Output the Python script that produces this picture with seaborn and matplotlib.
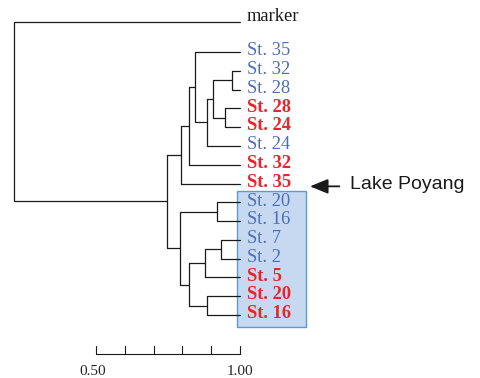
import numpy as np
import pandas as pd
import matplotlib
matplotlib.use("Agg")
import matplotlib.pyplot as plt
import seaborn as sns

# ------------------------------
#   Dendrogram data (similarity)
# ------------------------------
leaves = ["St. 35", "St. 32", "St. 28", "St. 28", "St. 24", "St. 24", "St. 32", "St. 35",
          "St. 20", "St. 16", "St. 7", "St. 2", "St. 5", "St. 20", "St. 16"]
leaf_group = ["b", "b", "b", "r", "r", "b", "r", "r",
              "b", "b", "b", "b", "r", "r", "r"]

# merges: (child a, child b, similarity); leaves are 0..14, new nodes 15, 16, ...
merges = [
    (1, 2, 0.972),    # 15
    (3, 4, 0.948),    # 16
    (15, 16, 0.906),  # 17
    (17, 5, 0.885),   # 18
    (0, 18, 0.844),   # 19
    (19, 6, 0.823),   # 20
    (20, 7, 0.795),   # 21
    (8, 9, 0.920),    # 22
    (10, 11, 0.934),  # 23
    (23, 12, 0.878),  # 24
    (13, 14, 0.885),  # 25
    (24, 25, 0.823),  # 26
    (22, 26, 0.792),  # 27
    (21, 27, 0.747),  # 28
]
root_similarity = 0.215
scale_ticks = [0.5, 0.6, 0.7, 0.8, 0.9, 1.0]

sns.set_style("white")
plt.rcParams["font.family"] = ["Liberation Serif", "DejaVu Serif"]

blue = "#4d6db8"
red = "#e8252b"

# node positions
pos = {i: (1.0, float(i)) for i in range(len(leaves))}
segs = []
for k, (a, b, s) in enumerate(merges):
    xa, ya = pos[a]
    xb, yb = pos[b]
    segs.append([(xa, ya), (s, ya), (s, yb), (xb, yb)])
    pos[len(leaves) + k] = (s, (ya + yb) / 2)

marker_y = -1.6
top_x, top_y = pos[len(leaves) + len(merges) - 1]
segs.append([(1.0, marker_y), (root_similarity, marker_y),
             (root_similarity, top_y), (top_x, top_y)])

rows = []
for i, seg in enumerate(segs):
    for j, (x, y) in enumerate(seg):
        rows.append({"seg": i, "order": j, "x": x, "y": y})
df = pd.DataFrame(rows)

fig = plt.figure(figsize=(4.81, 3.78), dpi=100)
ax = fig.add_axes([0, 0, 1, 1])

# Lake Poyang box
ax.add_patch(plt.Rectangle((0.990, 7.4), 0.239, 7.23, facecolor="#c6d9f0",
                           edgecolor="#5b9bd5", linewidth=1.0, zorder=0))

sns.lineplot(data=df, x="x", y="y", units="seg", estimator=None, sort=False,
             color="#1a1a1a", linewidth=0.9, ax=ax, legend=False)

for i, (name, g) in enumerate(zip(leaves, leaf_group)):
    ax.text(1.024, i - 0.07, name, va="center", ha="left", fontsize=13.3,
            color=blue if g == "b" else red,
            fontweight="normal" if g == "b" else "bold")
ax.text(1.024, marker_y - 0.3, "marker", va="center", ha="left", fontsize=13.3,
        color="#1a1a1a")

# arrow + label
ax.annotate("", xy=(1.243, 7.15), xytext=(1.345, 7.15),
            arrowprops=dict(arrowstyle="-|>,head_length=1.1,head_width=0.45",
                            color="#1a1a1a", lw=1.3, shrinkA=0, shrinkB=0))
ax.text(1.382, 7.05, "Lake Poyang", va="center", ha="left", fontsize=14,
        family=["Liberation Sans", "DejaVu Sans"], color="#1a1a1a")

# scale bar
bar_y = 16.07
ax.plot([scale_ticks[0], scale_ticks[-1]], [bar_y, bar_y], color="#1a1a1a", lw=0.8)
for t in scale_ticks:
    ax.plot([t, t], [bar_y, bar_y - 0.4], color="#1a1a1a", lw=0.8)
ax.text(0.49, 17.0, "0.50", ha="center", va="center", fontsize=11)
ax.text(1.0, 17.0, "1.00", ha="center", va="center", fontsize=11)

px = 288.0
ax.set_xlim(0.5 - 96 / px, 0.5 - 96 / px + 481 / px)
ax.set_ylim(-52 / 18.79 + 378 / 18.79, -52 / 18.79)
ax.axis("off")

fig.savefig("out.png", dpi=100)
